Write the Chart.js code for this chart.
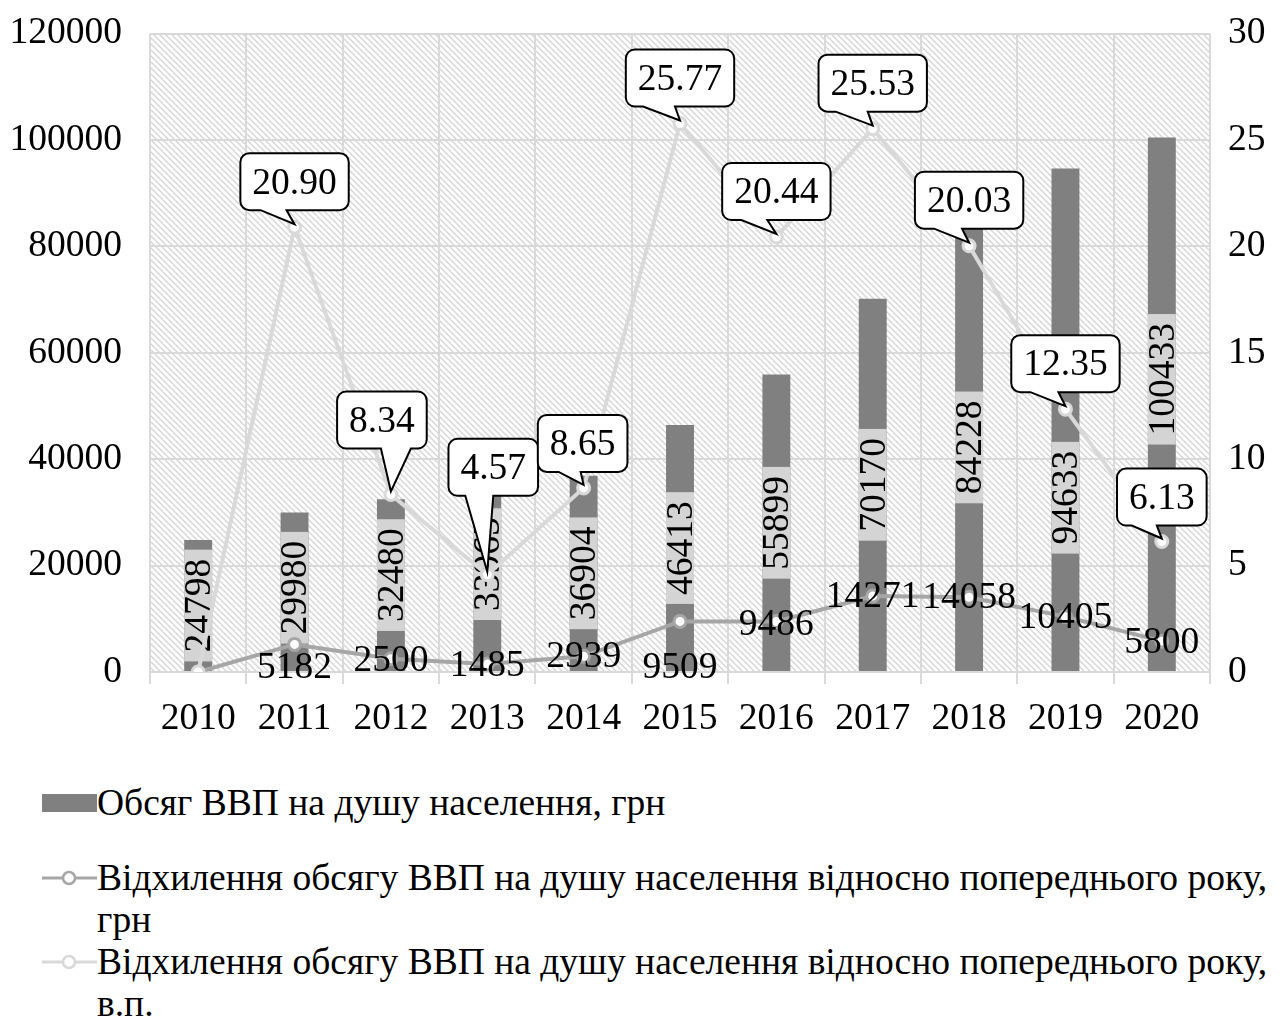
<!DOCTYPE html>
<html>
<head>
<meta charset="utf-8">
<script src="https://cdn.jsdelivr.net/npm/chart.js@4.4.1/dist/chart.umd.min.js"></script>
<style>
  body { margin: 0; background: #fff; width: 1282px; height: 1021px; overflow: hidden;
         font-family: 'Liberation Serif', 'Tinos', 'Times New Roman', 'DejaVu Serif', serif; }
  #wrap { position: absolute; left: 0; top: -17px; width: 1282px; height: 777px; }
  #legend { position: absolute; left: 42px; top: 782px; width: 1236px; font-size: 37.5px; line-height: 42px; color: #000; }
  .item { position: relative; padding-left: 55px; }
  .item.first { margin-bottom: 33px; }
  .mark { position: absolute; left: 0; top: 0; width: 55px; height: 42px; }
</style>
</head>
<body>
<div id="wrap"><canvas id="chart" width="1282" height="777"></canvas></div>
<div id="legend"></div>
<script>
// data
var years = ['2010', '2011', '2012', '2013', '2014', '2015', '2016', '2017', '2018', '2019', '2020'];
var gdpPerCapita = [24798, 29980, 32480, 33965, 36904, 46413, 55899, 70170, 84228, 94633, 100433];
var deviationUah = [0, 5182, 2500, 1485, 2939, 9509, 9486, 14271, 14058, 10405, 5800];
var deviationPp = [0, 20.90, 8.34, 4.57, 8.65, 25.77, 20.44, 25.53, 20.03, 12.35, 6.13];

var seriesNames = [
  'Обсяг ВВП на душу населення, грн',
  'Відхилення обсягу ВВП на душу населення відносно попереднього року, грн',
  'Відхилення обсягу ВВП на душу населення відносно попереднього року, в.п.'
];

// label nudges (pixels), as placed in the original
var barLabelShift = [0, -4, -10, -17, 0, 0, 0, 0, 0, 78, -25];
var uahLabelShift = [0, 24, 2, 2, 1, 47, 4, 1, 1, 2, 2];
var calloutPlace = [
  null,
  {dx: 0, dy: -17, t1: -34, t2: -8},
  {dx: -9, dy: -46, t1: -10, t2: 20},
  {dx: 6, dy: -79, t1: -22, t2: 6},
  {dx: -1, dy: -16, t1: -25, t2: -3},
  {dx: 0, dy: -17, t1: -37, t2: -5},
  {dx: 0, dy: -17, t1: -35, t2: -9},
  {dx: 0, dy: -17, t1: -37, t2: -5},
  {dx: 0, dy: -17, t1: -35, t2: -7},
  {dx: 0, dy: -17, t1: -35, t2: -7},
  {dx: 0, dy: -16, t1: -30, t2: -5}
];

var FONT = "'Liberation Serif', 'Tinos', 'Times New Roman', 'DejaVu Serif', serif";
var FSIZE = 37.5;
var BAR = '#808080';
var DARK = '#a6a6a6';
var LIGHT = '#d9d9d9';

function makeHatch(ctx) {
  var c = document.createElement('canvas');
  c.width = 6; c.height = 6;
  var g = c.getContext('2d');
  g.fillStyle = '#fff';
  g.fillRect(0, 0, 6, 6);
  g.strokeStyle = '#d4d4d4';
  g.lineWidth = 1.3;
  g.beginPath();
  g.moveTo(-1, -1); g.lineTo(7, 7);
  g.moveTo(-1, 5); g.lineTo(1, 7);
  g.moveTo(5, -1); g.lineTo(7, 1);
  g.stroke();
  return ctx.createPattern(c, 'repeat');
}

function calloutPath(ctx, x, y, w, h, r, bl, br, tx, ty) {
  ctx.beginPath();
  ctx.moveTo(x + r, y);
  ctx.lineTo(x + w - r, y);
  ctx.arcTo(x + w, y, x + w, y + r, r);
  ctx.lineTo(x + w, y + h - r);
  ctx.arcTo(x + w, y + h, x + w - r, y + h, r);
  ctx.lineTo(br, y + h);
  ctx.lineTo(tx, ty);
  ctx.lineTo(bl, y + h);
  ctx.lineTo(x + r, y + h);
  ctx.arcTo(x, y + h, x, y + h - r, r);
  ctx.lineTo(x, y + r);
  ctx.arcTo(x, y, x + r, y, r);
  ctx.closePath();
}

var hatchBg = {
  id: 'hatchBg',
  beforeDraw: function(chart) {
    var a = chart.chartArea, ctx = chart.ctx;
    ctx.save();
    ctx.fillStyle = makeHatch(ctx);
    ctx.fillRect(a.left, a.top, a.right - a.left, a.bottom - a.top);
    ctx.restore();
  }
};

// vertical value labels on the bars, drawn before the lines
var barLabels = {
  id: 'barLabels',
  afterDatasetDraw: function(chart, args) {
    if (args.index !== 0) return;
    var ctx = chart.ctx;
    ctx.save();
    ctx.font = FSIZE + 'px ' + FONT;
    args.meta.data.forEach(function(bar, i) {
      var txt = String(gdpPerCapita[i]);
      var tw = ctx.measureText(txt).width;
      var len = tw + 18;
      var cy = (bar.y + bar.base) / 2 + barLabelShift[i];
      ctx.fillStyle = '#d4d4d4';
      ctx.fillRect(bar.x - bar.width / 2, cy - len / 2, bar.width, len);
      ctx.translate(bar.x, cy);
      ctx.rotate(-Math.PI / 2);
      ctx.fillStyle = '#000';
      ctx.textAlign = 'center';
      ctx.textBaseline = 'middle';
      ctx.fillText(txt, 0, 2);
      ctx.setTransform(1, 0, 0, 1, 0, 0);
    });
    ctx.restore();
  }
};

var lineLabels = {
  id: 'lineLabels',
  afterDatasetsDraw: function(chart) {
    var ctx = chart.ctx;
    ctx.save();
    ctx.font = FSIZE + 'px ' + FONT;
    ctx.textAlign = 'center';
    ctx.textBaseline = 'middle';
    // labels of the UAH deviation line
    chart.getDatasetMeta(1).data.forEach(function(p, i) {
      if (i === 0) return;
      ctx.fillStyle = '#000';
      ctx.fillText(String(deviationUah[i]), p.x, p.y + uahLabelShift[i]);
    });
    // callouts of the percentage-point line
    chart.getDatasetMeta(2).data.forEach(function(p, i) {
      var pl = calloutPlace[i];
      if (!pl) return;
      var txt = deviationPp[i].toFixed(2);
      var w = ctx.measureText(txt).width + 24, h = 57;
      var cx = p.x + pl.dx, bottom = p.y + pl.dy;
      var x = cx - w / 2, y = bottom - h;
      calloutPath(ctx, x, y, w, h, 9, p.x + pl.t1, p.x + pl.t2, p.x, p.y - 3);
      ctx.fillStyle = '#fff';
      ctx.fill();
      ctx.lineWidth = 2;
      ctx.strokeStyle = '#000';
      ctx.stroke();
      ctx.fillStyle = '#000';
      ctx.fillText(txt, cx, y + h / 2 + 2);
    });
    ctx.restore();
  }
};

var chart = new Chart(document.getElementById('chart'), {
  data: {
    labels: years,
    datasets: [
      {
        type: 'bar',
        label: seriesNames[0],
        data: gdpPerCapita,
        backgroundColor: BAR,
        yAxisID: 'y',
        order: 3,
        categoryPercentage: 1,
        barPercentage: 0.29
      },
      {
        type: 'line',
        label: seriesNames[1],
        data: deviationUah,
        borderColor: DARK,
        borderWidth: 4,
        pointRadius: 6,
        pointBorderWidth: 3,
        pointBackgroundColor: '#fff',
        pointBorderColor: DARK,
        tension: 0,
        yAxisID: 'y',
        order: 2
      },
      {
        type: 'line',
        label: seriesNames[2],
        data: deviationPp,
        borderColor: LIGHT,
        borderWidth: 4,
        pointRadius: 6,
        pointBorderWidth: 3,
        pointBackgroundColor: '#fff',
        pointBorderColor: LIGHT,
        tension: 0,
        yAxisID: 'y2',
        order: 1
      }
    ]
  },
  options: {
    responsive: false,
    animation: false,
    events: [],
    layout: { padding: { top: 12 } },
    plugins: { legend: { display: false }, tooltip: { enabled: false } },
    scales: {
      x: {
        offset: true,
        grid: { offset: true, color: LIGHT, lineWidth: 2, tickLength: 12, tickColor: LIGHT },
        border: { display: false },
        ticks: { color: '#000', font: { family: FONT, size: FSIZE }, padding: 13, maxRotation: 0 },
        afterFit: function(s) { s.height = 88; }
      },
      y: {
        position: 'left',
        min: 0, max: 120000,
        ticks: { stepSize: 20000, color: '#000', font: { family: FONT, size: FSIZE }, padding: 28,
                 callback: function(v) { return String(v); } },
        grid: { color: LIGHT, lineWidth: 2, drawTicks: false },
        border: { display: false },
        afterFit: function(s) { s.width = 150; }
      },
      y2: {
        position: 'right',
        min: 0, max: 30,
        ticks: { stepSize: 5, color: '#000', font: { family: FONT, size: FSIZE }, padding: 18,
                 callback: function(v) { return String(v); } },
        grid: { display: false, drawTicks: false },
        border: { display: false },
        afterFit: function(s) { s.width = 72; }
      }
    }
  },
  plugins: [hatchBg, barLabels, lineLabels]
});

// legend under the chart, built from the datasets
function buildLegend(ch) {
  var box = document.getElementById('legend');
  ch.data.datasets.forEach(function(ds, i) {
    var item = document.createElement('div');
    item.className = 'item' + (i === 0 ? ' first' : '');
    var m = document.createElement('canvas');
    m.className = 'mark';
    m.width = 55; m.height = 42;
    var g = m.getContext('2d');
    if (ds.type === 'bar') {
      g.fillStyle = ds.backgroundColor;
      g.fillRect(0, 12, 55, 18);
    } else {
      g.strokeStyle = ds.borderColor;
      g.lineWidth = 3;
      g.beginPath(); g.moveTo(0, 21); g.lineTo(55, 21); g.stroke();
      g.beginPath(); g.arc(27, 21, 6, 0, Math.PI * 2);
      g.fillStyle = '#fff'; g.fill();
      g.lineWidth = 2.5; g.stroke();
    }
    item.appendChild(m);
    var t = document.createElement('span');
    t.textContent = ds.label;
    item.appendChild(t);
    box.appendChild(item);
  });
}
buildLegend(chart);
</script>
</body>
</html>
